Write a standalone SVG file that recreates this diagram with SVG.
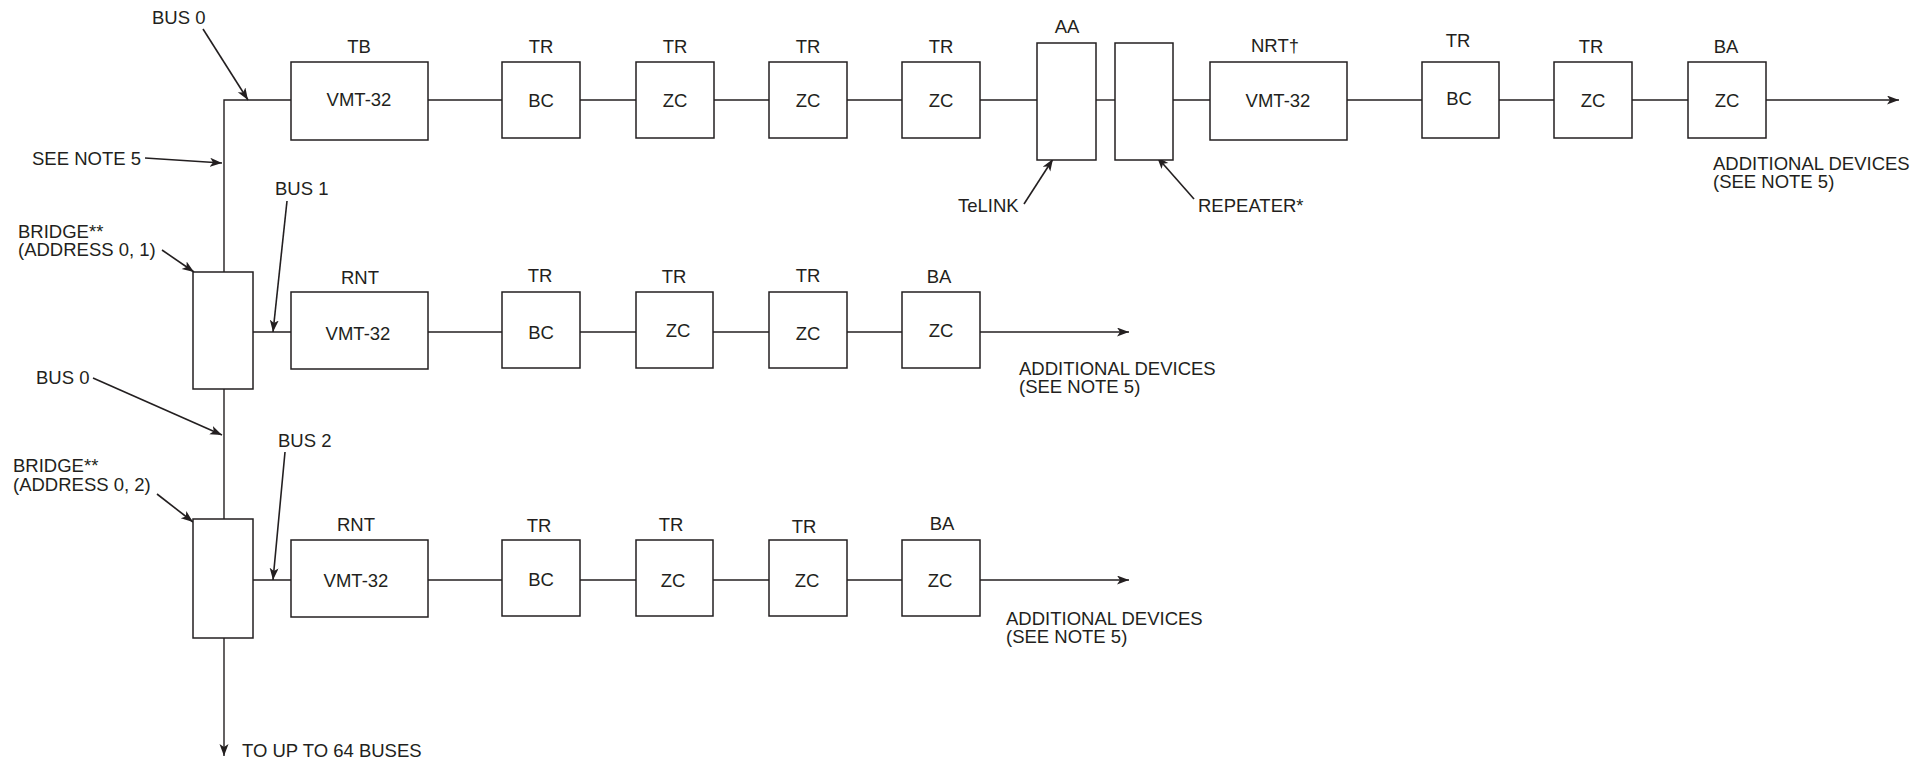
<svg xmlns="http://www.w3.org/2000/svg" width="1932" height="761" viewBox="0 0 1932 761">
<style>
text{font-family:"Liberation Sans",Arial,sans-serif;font-size:18.5px;fill:#231f20}
.c{text-anchor:middle}
.box{fill:#fff;stroke:#231f20;stroke-width:1.5}
.ln{fill:none;stroke:#231f20;stroke-width:1.4}
.ar{fill:none;stroke:#231f20;stroke-width:1.6;marker-end:url(#ah)}
.bus{fill:none;stroke:#231f20;stroke-width:1.4;marker-end:url(#ah)}
</style>
<defs>
<marker id="ah" markerUnits="userSpaceOnUse" markerWidth="14" markerHeight="10" refX="12" refY="4.5" orient="auto" viewBox="0 0 14 10">
<path d="M0,0 L12,4.5 L0,9 L3,4.5 z" fill="#231f20"/>
</marker>
</defs>
<rect width="1932" height="761" fill="#fff"/>

<g id="connectors">
<!-- main vertical bus 0 -->
<path class="ln" d="M291,100 H224 V272"/>
<line class="ln" x1="224" y1="389" x2="224" y2="519"/>
<line class="bus" x1="224" y1="638" x2="224" y2="756"/>
<!-- row 1 -->
<line class="ln" x1="428" y1="100" x2="502" y2="100"/>
<line class="ln" x1="580" y1="100" x2="636" y2="100"/>
<line class="ln" x1="714" y1="100" x2="769" y2="100"/>
<line class="ln" x1="847" y1="100" x2="902" y2="100"/>
<line class="ln" x1="980" y1="100" x2="1037" y2="100"/>
<line class="ln" x1="1096" y1="100" x2="1115" y2="100"/>
<line class="ln" x1="1173" y1="100" x2="1210" y2="100"/>
<line class="ln" x1="1347" y1="100" x2="1422" y2="100"/>
<line class="ln" x1="1499" y1="100" x2="1554" y2="100"/>
<line class="ln" x1="1632" y1="100" x2="1688" y2="100"/>
<line class="bus" x1="1766" y1="100" x2="1899" y2="100"/>
<!-- row 2 -->
<line class="ln" x1="253" y1="332" x2="291" y2="332"/>
<line class="ln" x1="428" y1="332" x2="502" y2="332"/>
<line class="ln" x1="580" y1="332" x2="636" y2="332"/>
<line class="ln" x1="713" y1="332" x2="769" y2="332"/>
<line class="ln" x1="847" y1="332" x2="902" y2="332"/>
<line class="bus" x1="980" y1="332" x2="1129" y2="332"/>
<!-- row 3 -->
<line class="ln" x1="253" y1="580" x2="291" y2="580"/>
<line class="ln" x1="428" y1="580" x2="502" y2="580"/>
<line class="ln" x1="580" y1="580" x2="636" y2="580"/>
<line class="ln" x1="713" y1="580" x2="769" y2="580"/>
<line class="ln" x1="847" y1="580" x2="902" y2="580"/>
<line class="bus" x1="980" y1="580" x2="1129" y2="580"/>
<!-- callout arrows -->
<line class="ar" x1="203" y1="29" x2="248" y2="100"/>
<line class="ar" x1="145" y1="158" x2="222" y2="163"/>
<line class="ar" x1="287" y1="201" x2="273" y2="332"/>
<line class="ar" x1="162" y1="250" x2="194" y2="272"/>
<line class="ar" x1="93" y1="378" x2="222" y2="435"/>
<line class="ar" x1="285" y1="452" x2="273" y2="580"/>
<line class="ar" x1="157" y1="494" x2="193" y2="522"/>
<line class="ar" x1="1024" y1="204" x2="1053" y2="159"/>
<line class="ar" x1="1194" y1="199" x2="1157" y2="157"/>
</g>

<g id="labels">
<text x="152" y="24">BUS 0</text>
<text x="32" y="165">SEE NOTE 5</text>
<text x="275" y="195">BUS 1</text>
<text x="18" y="238">BRIDGE**</text>
<text x="18" y="256">(ADDRESS 0, 1)</text>
<text x="36" y="384">BUS 0</text>
<text x="278" y="447">BUS 2</text>
<text x="13" y="472">BRIDGE**</text>
<text x="13" y="491">(ADDRESS 0, 2)</text>
<text x="242" y="757">TO UP TO 64 BUSES</text>
<text x="958" y="212">TeLINK</text>
<text x="1198" y="212">REPEATER*</text>
<text x="1713" y="170">ADDITIONAL DEVICES</text>
<text x="1713" y="188">(SEE NOTE 5)</text>
<text x="1019" y="375">ADDITIONAL DEVICES</text>
<text x="1019" y="393">(SEE NOTE 5)</text>
<text x="1006" y="625">ADDITIONAL DEVICES</text>
<text x="1006" y="643">(SEE NOTE 5)</text>
</g>

<!-- bridges -->
<g id="bridge1"><rect class="box" x="193" y="272" width="60" height="117"/></g>
<g id="bridge2"><rect class="box" x="193" y="519" width="60" height="119"/></g>

<!-- row 1 -->
<g id="r1-tb"><text class="c" x="359" y="53">TB</text><rect class="box" x="291" y="62" width="137" height="78"/><text class="c" x="359" y="106">VMT-32</text></g>
<g id="r1-bc"><text class="c" x="541" y="53">TR</text><rect class="box" x="502" y="62" width="78" height="76"/><text class="c" x="541" y="107">BC</text></g>
<g id="r1-zc1"><text class="c" x="675" y="53">TR</text><rect class="box" x="636" y="62" width="78" height="76"/><text class="c" x="675" y="107">ZC</text></g>
<g id="r1-zc2"><text class="c" x="808" y="53">TR</text><rect class="box" x="769" y="62" width="78" height="76"/><text class="c" x="808" y="107">ZC</text></g>
<g id="r1-zc3"><text class="c" x="941" y="53">TR</text><rect class="box" x="902" y="62" width="78" height="76"/><text class="c" x="941" y="107">ZC</text></g>
<g id="r1-aa"><text class="c" x="1067" y="33">AA</text><rect class="box" x="1037" y="43" width="59" height="117"/></g>
<g id="r1-repeater"><rect class="box" x="1115" y="43" width="58" height="117"/></g>
<g id="r1-nrt"><text class="c" x="1275" y="52">NRT†</text><rect class="box" x="1210" y="62" width="137" height="78"/><text class="c" x="1278" y="107">VMT-32</text></g>
<g id="r1-bc2"><text class="c" x="1458" y="47">TR</text><rect class="box" x="1422" y="62" width="77" height="76"/><text class="c" x="1459" y="105">BC</text></g>
<g id="r1-zc4"><text class="c" x="1591" y="53">TR</text><rect class="box" x="1554" y="62" width="78" height="76"/><text class="c" x="1593" y="107">ZC</text></g>
<g id="r1-ba"><text class="c" x="1726" y="53">BA</text><rect class="box" x="1688" y="62" width="78" height="76"/><text class="c" x="1727" y="107">ZC</text></g>

<!-- row 2 -->
<g id="r2-rnt"><text class="c" x="360" y="284">RNT</text><rect class="box" x="291" y="292" width="137" height="77"/><text class="c" x="358" y="340">VMT-32</text></g>
<g id="r2-bc"><text class="c" x="540" y="282">TR</text><rect class="box" x="502" y="292" width="78" height="76"/><text class="c" x="541" y="339">BC</text></g>
<g id="r2-zc1"><text class="c" x="674" y="283">TR</text><rect class="box" x="636" y="292" width="77" height="76"/><text class="c" x="678" y="337">ZC</text></g>
<g id="r2-zc2"><text class="c" x="808" y="282">TR</text><rect class="box" x="769" y="292" width="78" height="76"/><text class="c" x="808" y="340">ZC</text></g>
<g id="r2-ba"><text class="c" x="939" y="283">BA</text><rect class="box" x="902" y="292" width="78" height="76"/><text class="c" x="941" y="337">ZC</text></g>

<!-- row 3 -->
<g id="r3-rnt"><text class="c" x="356" y="531">RNT</text><rect class="box" x="291" y="540" width="137" height="77"/><text class="c" x="356" y="587">VMT-32</text></g>
<g id="r3-bc"><text class="c" x="539" y="532">TR</text><rect class="box" x="502" y="540" width="78" height="76"/><text class="c" x="541" y="586">BC</text></g>
<g id="r3-zc1"><text class="c" x="671" y="531">TR</text><rect class="box" x="636" y="540" width="77" height="76"/><text class="c" x="673" y="587">ZC</text></g>
<g id="r3-zc2"><text class="c" x="804" y="533">TR</text><rect class="box" x="769" y="540" width="78" height="76"/><text class="c" x="807" y="587">ZC</text></g>
<g id="r3-ba"><text class="c" x="942" y="530">BA</text><rect class="box" x="902" y="540" width="78" height="76"/><text class="c" x="940" y="587">ZC</text></g>
</svg>
